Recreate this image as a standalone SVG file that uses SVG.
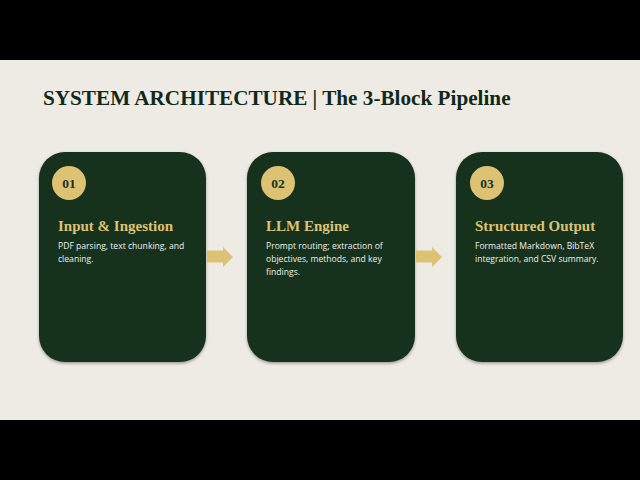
<svg xmlns="http://www.w3.org/2000/svg" width="640" height="480" viewBox="0 0 640 480">
<defs>
<style>
.card{fill:#13321F;}
.badge{fill:#DDC274;}
.num{font-family:"Liberation Serif",serif;font-weight:bold;font-size:13.5px;fill:#12321F;text-anchor:middle;}
.ttl{font-family:"Liberation Serif",serif;font-weight:bold;font-size:15px;fill:#DDC274;}
.body{font-family:"Open Sans","Liberation Sans",sans-serif;font-size:8.6px;fill:#F2F0EA;}
.arrow{fill:#DDC274;}
</style>
<filter id="sh" x="-10%" y="-10%" width="120%" height="120%">
<feDropShadow dx="0" dy="1.5" stdDeviation="1.5" flood-color="#000" flood-opacity="0.35"/>
</filter>
</defs>
<rect x="0" y="0" width="640" height="480" fill="#000"/>
<rect x="0" y="60" width="640" height="360" fill="#EEEBE5"/>
<text x="43" y="105" font-family="Liberation Serif,serif" font-weight="bold" font-size="21.2" fill="#10291A">SYSTEM ARCHITECTURE | The 3-Block Pipeline</text>

<g id="node1">
<rect class="card" x="39" y="152" width="167" height="210" rx="26" filter="url(#sh)"/>
<circle class="badge" cx="69" cy="183" r="17"/>
<text class="num" x="69" y="188">01</text>
<text class="ttl" x="58" y="231">Input &amp; Ingestion</text>
<text class="body" x="58" y="249">PDF parsing, text chunking, and</text>
<text class="body" x="58" y="262">cleaning.</text>
</g>
<g id="node2">
<rect class="card" x="247" y="152" width="168" height="210" rx="26" filter="url(#sh)"/>
<circle class="badge" cx="278" cy="183" r="17"/>
<text class="num" x="278" y="188">02</text>
<text class="ttl" x="266" y="231">LLM Engine</text>
<text class="body" x="266" y="249">Prompt routing; extraction of</text>
<text class="body" x="266" y="262">objectives, methods, and key</text>
<text class="body" x="266" y="275">findings.</text>
</g>
<g id="node3">
<rect class="card" x="456" y="152" width="167" height="210" rx="26" filter="url(#sh)"/>
<circle class="badge" cx="487" cy="183" r="17"/>
<text class="num" x="487" y="188">03</text>
<text class="ttl" x="475" y="231">Structured Output</text>
<text class="body" x="475" y="249">Formatted Markdown, BibTeX</text>
<text class="body" x="475" y="262">integration, and CSV summary.</text>
</g>
<g id="connectors">
<polygon class="arrow" points="207,250.5 223,250.5 223,247 233,257 223,267 223,262.5 207,262.5"/>
<polygon class="arrow" points="416,250.5 432,250.5 432,247 442,257 432,267 432,262.5 416,262.5"/>
</g>
</svg>
